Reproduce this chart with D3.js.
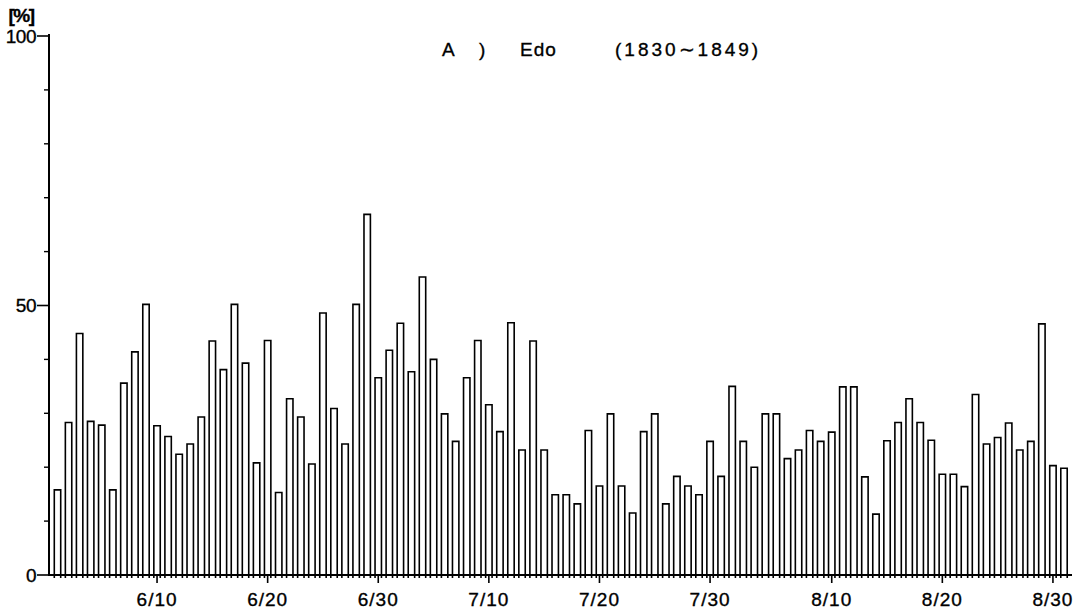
<!DOCTYPE html>
<html>
<head>
<meta charset="utf-8">
<script src="https://cdn.jsdelivr.net/npm/d3@7"></script>
<style>
    body { margin: 0; background: #fff; }
    text { font-family: "Liberation Sans", Arial, sans-serif; fill: #000; stroke: #000; stroke-width: 0.35; }
</style>
</head>
<body>
<div id="chart"></div>
<script>

// daily values [%]
const juneValues = [15.8, 28.3, 44.8, 28.5, 27.8, 15.8, 35.6, 41.4, 50.2, 27.7,
    25.7, 22.4, 24.3, 29.3, 43.4, 38.1, 50.2, 39.3, 20.8, 43.5,
    15.3, 32.7, 29.3, 20.6, 48.6, 30.9, 24.3, 50.2, 66.9, 36.6];
const julyValues = [41.7, 46.7, 37.7, 55.3, 40.0, 29.9, 24.8, 36.6, 43.5, 31.6,
    26.6, 46.8, 23.2, 43.4, 23.2, 14.9, 14.9, 13.2, 26.8, 16.5,
    29.9, 16.5, 11.5, 26.6, 29.9, 13.2, 18.3, 16.5, 14.9, 24.8, 18.3];
const augustValues = [35.0, 24.8, 20.0, 29.9, 29.9, 21.6, 23.2, 26.8, 24.8, 26.5,
    34.9, 34.9, 18.2, 11.3, 24.9, 28.3, 32.7, 28.3, 25.0, 18.7,
    18.7, 16.4, 33.5, 24.3, 25.5, 28.2, 23.2, 24.8, 46.6, 20.3, 19.8];

const xTickLabels = ["6/10", "6/20", "6/30", "7/10", "7/20", "7/30", "8/10", "8/20", "8/30"];
const yMajorTicks = [0, 50, 100];
const yMinorTicks = [10, 20, 30, 40, 60, 70, 80, 90];
const titleParts = ["A )", "Edo", "(1830\u223C1849)"];

class DailyChart {

    constructor() {
        this.width = 1084;
        this.height = 611;
        this.svg = d3.select("#chart").append("svg")
            .attr("width", this.width)
            .attr("height", this.height);

        //build the day list 6/1 .. 8/31
        this.data = [];
        let that = this;
        [[6, juneValues], [7, julyValues], [8, augustValues]].forEach(function(m) {
            m[1].forEach(function(v, i) {
                that.data.push({day: m[0] + "/" + (i + 1), value: v});
            });
        });

        this.axisX = 49;
        this.xScale = d3.scalePoint()
            .domain(this.data.map(d => d.day))
            .range([57.5, 1064]);
        this.yScale = d3.scaleLinear()
            .domain([0, 100])
            .range([575, 36]);
    }

    draw() {
        let x = this.xScale, y = this.yScale;
        let barW = x.step() * 0.58;
        let y0 = y(0);

        // bars drawn as open outlines whose sides poke below the baseline
        this.svg.append("g").selectAll("path")
            .data(this.data)
            .enter().append("path")
            .attr("d", function(d) {
                let l = x(d.day) - barW / 2, r = x(d.day) + barW / 2;
                return "M" + l + "," + (y0 + 3) + "V" + y(d.value) + "H" + r + "V" + (y0 + 3);
            })
            .attr("fill", "#fff")
            .attr("stroke", "#000")
            .attr("stroke-width", 1.6);

        // x axis line
        this.svg.append("line")
            .attr("x1", this.axisX).attr("x2", 1072)
            .attr("y1", y0).attr("y2", y0)
            .attr("stroke", "#000").attr("stroke-width", 2);

        let xt = this.svg.append("g").selectAll("g")
            .data(xTickLabels)
            .enter().append("g")
            .attr("transform", d => "translate(" + x(d) + "," + y0 + ")");
        xt.append("line")
            .attr("y1", 0).attr("y2", 8)
            .attr("stroke", "#000").attr("stroke-width", 1.6);
        xt.append("text")
            .attr("y", 31)
            .attr("text-anchor", "middle")
            .attr("font-size", 19)
            .attr("letter-spacing", 1)
            .text(d => d);

        // y axis
        this.svg.append("line")
            .attr("x1", this.axisX).attr("x2", this.axisX)
            .attr("y1", y(0) + 1).attr("y2", y(100) - 2)
            .attr("stroke", "#000").attr("stroke-width", 2);

        this.svg.append("g").selectAll("line")
            .data(yMinorTicks)
            .enter().append("line")
            .attr("x1", this.axisX - 5).attr("x2", this.axisX)
            .attr("y1", d => y(d)).attr("y2", d => y(d))
            .attr("stroke", "#000").attr("stroke-width", 1.4);

        let yt = this.svg.append("g").selectAll("g")
            .data(yMajorTicks)
            .enter().append("g")
            .attr("transform", d => "translate(0," + y(d) + ")");
        yt.append("line")
            .attr("x1", this.axisX - 12).attr("x2", this.axisX)
            .attr("stroke", "#000").attr("stroke-width", 1.6);
        yt.append("text")
            .attr("x", this.axisX - 13)
            .attr("dy", "0.36em")
            .attr("text-anchor", "end")
            .attr("font-size", 19)
            .attr("letter-spacing", -0.5)
            .text(d => d);

        this.svg.append("text")
            .attr("x", 21).attr("y", 22)
            .attr("text-anchor", "middle")
            .attr("font-size", 19)
            .attr("font-weight", "bold")
            .attr("letter-spacing", -1.5)
            .text("[%]");

        // title
        let tx = [442, 520, 615];
        let ls = [10, 1, 3];
        this.svg.append("g").selectAll("text")
            .data(titleParts)
            .enter().append("text")
            .attr("x", (d, i) => tx[i])
            .attr("y", 56)
            .attr("font-size", 19)
            .attr("letter-spacing", (d, i) => ls[i])
            .text(d => d);
    }
}

let chart = new DailyChart();
chart.draw();

</script>
</body>
</html>
